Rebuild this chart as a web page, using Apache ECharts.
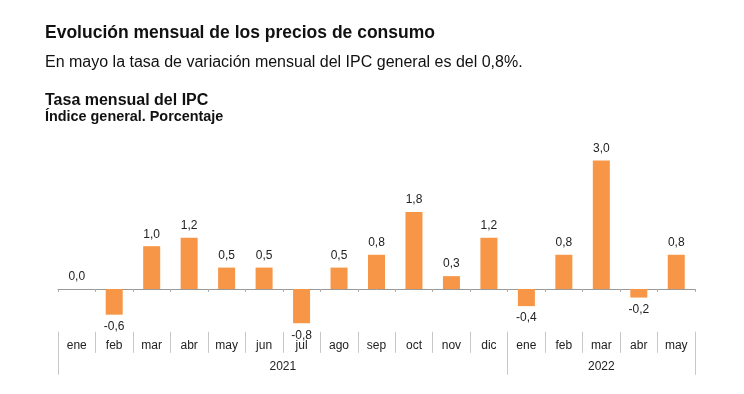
<!DOCTYPE html>
<html>
<head>
<meta charset="utf-8">
<script src="https://cdn.jsdelivr.net/npm/echarts@6/dist/echarts.min.js"></script>
<style>
html,body{margin:0;padding:0;background:#fff;}
#chart{width:744px;height:394px;}
</style>
</head>
<body>
<div id="chart"></div>
<script>
var months = ['ene','feb','mar','abr','may','jun','jul','ago','sep','oct','nov','dic','ene','feb','mar','abr','may'];
var values = [0.0,-0.6,1.0,1.2,0.5,0.5,-0.8,0.5,0.8,1.8,0.3,1.2,-0.4,0.8,3.0,-0.2,0.8];
var years = ['2021','2022'];
var yearSpans = [12,5];

var yearBounds = [0];
var yearCenters = [];
var acc = 0;
yearSpans.forEach(function(s){ yearCenters.push(acc + s/2); acc += s; yearBounds.push(acc); });

function fmt(v){ return v.toFixed(1).replace('.', ','); }

var chart = echarts.init(document.getElementById('chart'), null, {renderer:'canvas'});
var font = 'Liberation Sans, Arial, sans-serif';
var option = {
  animation: false,
  backgroundColor: '#ffffff',
  textStyle: {fontFamily: font},
  title: [
    {text: 'Evolución mensual de los precios de consumo', left: 45, top: 24, padding: 0,
     textStyle: {fontSize: 17.5, fontWeight: 'bold', color: '#111', fontFamily: font}},
    {text: 'En mayo la tasa de variación mensual del IPC general es del 0,8%.', left: 45, top: 55, padding: 0,
     textStyle: {fontSize: 16, fontWeight: 'normal', color: '#111', fontFamily: font}},
    {text: 'Tasa mensual del IPC', left: 45, top: 92.5, padding: 0,
     textStyle: {fontSize: 16, fontWeight: 'bold', color: '#111', fontFamily: font}},
    {text: 'Índice general. Porcentaje', left: 45, top: 110.5, padding: 0,
     textStyle: {fontSize: 14.4, fontWeight: 'bold', color: '#111', fontFamily: font}}
  ],
  grid: {left: 58, right: 49, top: 139.2, bottom: 62.2, containLabel: false},
  yAxis: {type: 'value', min: -1, max: 3.5, show: false},
  xAxis: [
    {
      type: 'category', data: months, position: 'bottom',
      axisLine: {onZero: true, lineStyle: {color: '#999', width: 1}},
      axisTick: {show: true, length: 3, lineStyle: {color: '#aaa'}},
      axisLabel: {show: false}
    },
    {
      type: 'category', data: months, position: 'bottom',
      axisLine: {show: false, onZero: false},
      axisTick: {show: true, length: 21, lineStyle: {color: '#c8c8c8'}},
      axisLabel: {show: true, margin: 8, fontSize: 12, color: '#222', fontFamily: font}
    },
    {
      type: 'value', min: 0, max: months.length, position: 'bottom',
      axisLine: {show: false, onZero: false},
      splitLine: {show: false},
      axisTick: {show: true, length: 43, customValues: yearBounds, lineStyle: {color: '#c8c8c8'}},
      axisLabel: {show: true, margin: 29, fontSize: 12, color: '#222', fontFamily: font,
        customValues: yearCenters,
        formatter: function(v){ var i = yearCenters.indexOf(v); return i >= 0 ? years[i] : ''; }}
    }
  ],
  series: [{
    type: 'bar',
    xAxisIndex: 0,
    barWidth: 17,
    data: values.map(function(v){
      return {value: v, label: {position: v < 0 ? 'bottom' : 'top'}};
    }),
    itemStyle: {color: '#F79646'},
    label: {show: true, distance: 6, fontSize: 12, color: '#222', fontFamily: font,
      formatter: function(p){ return fmt(p.value); }}
  }]
};
chart.setOption(option);
</script>
</body>
</html>
